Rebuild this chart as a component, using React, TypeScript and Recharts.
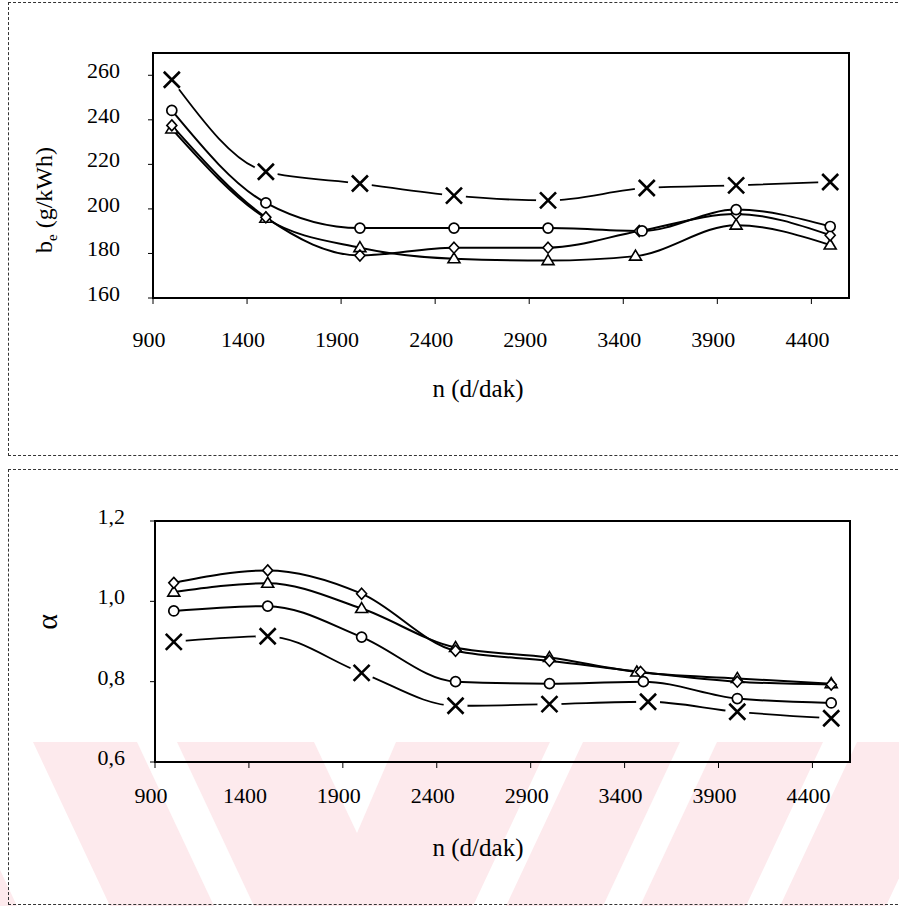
import { LineChart, Line, XAxis, YAxis, ReferenceArea, Label } from "recharts";

// engine speed (rpm) per series, tick labels
const rpmTicks = [900, 1400, 1900, 2400, 2900, 3400, 3900, 4400];
const rpmCross = [1000, 1500, 2000, 2500, 3000, 3525, 4000, 4500];
const rpmCircle = [1000, 1500, 2000, 2500, 3000, 3500, 4000, 4500];
const rpmDiamond = [1000, 1500, 2000, 2500, 3000, 3485, 4000, 4500];
const rpmTriangle = [1000, 1500, 2000, 2500, 3000, 3465, 4000, 4500];

// specific fuel consumption b_e (g/kWh)
const beTicks = [160, 180, 200, 220, 240, 260];
const beCross = [258, 216.7, 211.4, 206, 203.8, 209.4, 210.6, 212.1];
const beCircle = [244.2, 202.7, 191.4, 191.4, 191.4, 190.1, 199.7, 192.1];
const beDiamond = [237.5, 196.2, 179.1, 182.6, 182.6, 190.1, 197.7, 188.2];
const beTriangle = [235.9, 195.8, 182.6, 177.6, 176.8, 178.8, 192.7, 183.8];

// excess air ratio alpha
const alphaTicks = [0.6, 0.8, 1.0, 1.2];
const alphaCross = [0.899, 0.913, 0.822, 0.74, 0.744, 0.75, 0.725, 0.709];
const alphaCircle = [0.976, 0.988, 0.911, 0.8, 0.795, 0.8, 0.758, 0.747];
const alphaDiamond = [1.046, 1.077, 1.019, 0.877, 0.852, 0.824, 0.8, 0.793];
const alphaTriangle = [1.023, 1.045, 0.982, 0.885, 0.86, 0.824, 0.808, 0.795];

const FONT = "Liberation Serif";
const txt = { fontFamily: FONT };

const toPoints = (xs: number[], ys: number[]) =>
  xs.map((rpm, i) => ({ rpm, v: ys[i] }));

const crossDot = (p: any) => (
  <g key={p.key}>
    <circle cx={p.cx} cy={p.cy} r={12} fill="#fff" />
    <path
      d={`M${p.cx - 8},${p.cy - 8}L${p.cx + 8},${p.cy + 8}M${p.cx + 8},${p.cy - 8}L${p.cx - 8},${p.cy + 8}`}
      stroke="#000"
      strokeWidth={2.6}
    />
  </g>
);

const circleDot = (p: any) => (
  <circle key={p.key} cx={p.cx} cy={p.cy} r={5} fill="#fff" stroke="#000" strokeWidth={1.7} />
);

const diamondDot = (p: any) => (
  <polygon
    key={p.key}
    points={`${p.cx},${p.cy - 5.5} ${p.cx + 5},${p.cy} ${p.cx},${p.cy + 5.5} ${p.cx - 5},${p.cy}`}
    fill="#fff"
    stroke="#000"
    strokeWidth={1.6}
  />
);

const triangleDot = (p: any) => (
  <polygon
    key={p.key}
    points={`${p.cx},${p.cy - 6} ${p.cx + 6},${p.cy + 4} ${p.cx - 6},${p.cy + 4}`}
    fill="#fff"
    stroke="#000"
    strokeWidth={1.6}
  />
);

const makeXTick = (dy: number) => (props: any) => (
  <text x={props.x - 4} y={props.y + dy} textAnchor="middle" style={txt} fontSize={22} fill="#000">
    {props.payload.value}
  </text>
);

const makeYTick = (dx: number, fmt: (v: number) => string) => (props: any) => (
  <text x={props.x - dx} y={props.y + 3} textAnchor="end" style={txt} fontSize={22} fill="#000">
    {fmt(props.payload.value)}
  </text>
);

const xTitle = (y: number) => () => (
  <text x={478} y={y} textAnchor="middle" style={txt} fontSize={25} fill="#000">
    n (d/dak)
  </text>
);

// watermark stripes (decorative background of the scanned page)
const backGaps = [[-60, 33], [137, 177]];
const fwdGaps = [[550, 583], [680, 717], [823, 857], [963, 997]];

function Watermark() {
  const top = 742;
  const bot = 906;
  const s = 77;
  return (
    <svg width={899} height={906} style={{ position: "absolute", left: 0, top: 0 }}>
      <rect x={0} y={top} width={899} height={bot - top} fill="#fdeaed" />
      {backGaps.map(([a, b], i) => (
        <polygon key={"b" + i} points={`${a},${top} ${b},${top} ${b + s},${bot} ${a + s},${bot}`} fill="#fff" />
      ))}
      {fwdGaps.map(([a, b], i) => (
        <polygon key={"f" + i} points={`${a},${top} ${b},${top} ${b - s},${bot} ${a - s},${bot}`} fill="#fff" />
      ))}
      <polygon points={`314,${top} 396,${top} 357,833`} fill="#fff" />
    </svg>
  );
}

const boxStyle = (top: number, height: number): React.CSSProperties => ({
  position: "absolute",
  left: 8,
  top,
  width: 900,
  height,
  border: "1px dashed #333",
  boxSizing: "border-box",
});

export default function App() {
  return (
    <div style={{ position: "absolute", left: 0, top: 0, width: 899, height: 906, overflow: "hidden", background: "#fff", fontFamily: FONT }}>
      <Watermark />
      <div style={boxStyle(2, 454)} />
      <div style={boxStyle(469, 436)} />

      <div style={{ position: "absolute", left: 0, top: 0 }}>
        <LineChart width={899} height={460} margin={{ top: 53, right: 50, bottom: 132, left: 0 }}>
          <XAxis
            type="number"
            dataKey="rpm"
            domain={[900, 4600]}
            ticks={rpmTicks}
            interval={0}
            height={30}
            allowDataOverflow
            axisLine={{ stroke: "#000", strokeWidth: 2 }}
            tickLine={{ stroke: "#000" }}
            tickSize={6}
            tickMargin={0}
            tick={makeXTick(43)}
          >
            <Label content={xTitle(397)} />
          </XAxis>
          <YAxis
            type="number"
            domain={[160, 270]}
            ticks={beTicks}
            interval={0}
            width={153}
            allowDataOverflow
            axisLine={{ stroke: "#000", strokeWidth: 2 }}
            tickLine={{ stroke: "#000" }}
            tickSize={5}
            tickMargin={0}
            tick={makeYTick(28, (v) => String(v))}
          >
            <Label
              content={() => (
                <text
                  x={51.5}
                  y={200}
                  transform="rotate(-90 51.5 200)"
                  textAnchor="middle"
                  style={txt}
                  fontSize={24}
                  fill="#000"
                >
                  b<tspan fontSize={15} dy={5}>e</tspan>
                  <tspan dy={-5}> (g/kWh)</tspan>
                </text>
              )}
            />
          </YAxis>
          <ReferenceArea x1={900} x2={4600} y1={160} y2={270} fill="none" stroke="#000" strokeWidth={2} />
          <Line data={toPoints(rpmCross, beCross)} dataKey="v" type="monotone" stroke="#000" strokeWidth={1.8} dot={crossDot} isAnimationActive={false} />
          <Line data={toPoints(rpmTriangle, beTriangle)} dataKey="v" type="monotone" stroke="#000" strokeWidth={2} dot={triangleDot} isAnimationActive={false} />
          <Line data={toPoints(rpmDiamond, beDiamond)} dataKey="v" type="monotone" stroke="#000" strokeWidth={2} dot={diamondDot} isAnimationActive={false} />
          <Line data={toPoints(rpmCircle, beCircle)} dataKey="v" type="monotone" stroke="#000" strokeWidth={2} dot={circleDot} isAnimationActive={false} />
        </LineChart>
      </div>

      <div style={{ position: "absolute", left: 0, top: 460 }}>
        <LineChart width={899} height={446} margin={{ top: 61, right: 49, bottom: 114, left: 0 }}>
          <XAxis
            type="number"
            dataKey="rpm"
            domain={[900, 4600]}
            ticks={rpmTicks}
            interval={0}
            height={30}
            allowDataOverflow
            axisLine={{ stroke: "#000", strokeWidth: 2 }}
            tickLine={{ stroke: "#000" }}
            tickSize={6}
            tickMargin={0}
            tick={makeXTick(34.7)}
          >
            <Label content={xTitle(396)} />
          </XAxis>
          <YAxis
            type="number"
            domain={[0.6, 1.2]}
            ticks={alphaTicks}
            interval={0}
            width={155}
            allowDataOverflow
            axisLine={{ stroke: "#000", strokeWidth: 2 }}
            tickLine={{ stroke: "#000" }}
            tickSize={5}
            tickMargin={0}
            tick={makeYTick(25, (v) => v.toFixed(1).replace(".", ","))}
          >
            <Label
              content={() => (
                <text
                  x={57}
                  y={162}
                  transform="rotate(-90 57 162)"
                  textAnchor="middle"
                  style={txt}
                  fontSize={30}
                  fill="#000"
                >
                  α
                </text>
              )}
            />
          </YAxis>
          <ReferenceArea x1={900} x2={4600} y1={0.6} y2={1.2} fill="none" stroke="#000" strokeWidth={2} />
          <Line data={toPoints(rpmCross, alphaCross)} dataKey="v" type="monotone" stroke="#000" strokeWidth={1.8} dot={crossDot} isAnimationActive={false} />
          <Line data={toPoints(rpmTriangle, alphaTriangle)} dataKey="v" type="monotone" stroke="#000" strokeWidth={2} dot={triangleDot} isAnimationActive={false} />
          <Line data={toPoints(rpmDiamond, alphaDiamond)} dataKey="v" type="monotone" stroke="#000" strokeWidth={2} dot={diamondDot} isAnimationActive={false} />
          <Line data={toPoints(rpmCircle, alphaCircle)} dataKey="v" type="monotone" stroke="#000" strokeWidth={2} dot={circleDot} isAnimationActive={false} />
        </LineChart>
      </div>
    </div>
  );
}
